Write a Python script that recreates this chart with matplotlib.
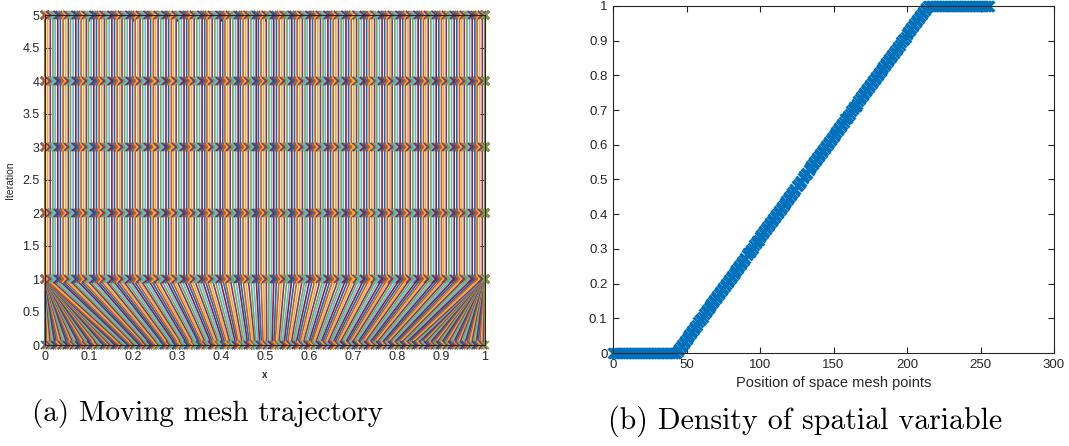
import numpy as np
import matplotlib
matplotlib.use("Agg")
import matplotlib.pyplot as plt

# ---------------- data ----------------
iterations = [0, 1, 2, 3, 4, 5]

# initial (uniform) mesh, iteration 0
mesh_iter0 = [
    0.000, 0.004, 0.008, 0.012, 0.016, 0.020, 0.023, 0.027, 0.031, 0.035, 0.039, 0.043, 0.047, 0.051, 0.055, 0.059,
    0.063, 0.066, 0.070, 0.074, 0.078, 0.082, 0.086, 0.090, 0.094, 0.098, 0.102, 0.105, 0.109, 0.113, 0.117, 0.121,
    0.125, 0.129, 0.133, 0.137, 0.141, 0.145, 0.148, 0.152, 0.156, 0.160, 0.164, 0.168, 0.172, 0.176, 0.180, 0.184,
    0.188, 0.191, 0.195, 0.199, 0.203, 0.207, 0.211, 0.215, 0.219, 0.223, 0.227, 0.230, 0.234, 0.238, 0.242, 0.246,
    0.250, 0.254, 0.258, 0.262, 0.266, 0.270, 0.273, 0.277, 0.281, 0.285, 0.289, 0.293, 0.297, 0.301, 0.305, 0.309,
    0.313, 0.316, 0.320, 0.324, 0.328, 0.332, 0.336, 0.340, 0.344, 0.348, 0.352, 0.355, 0.359, 0.363, 0.367, 0.371,
    0.375, 0.379, 0.383, 0.387, 0.391, 0.395, 0.398, 0.402, 0.406, 0.410, 0.414, 0.418, 0.422, 0.426, 0.430, 0.434,
    0.438, 0.441, 0.445, 0.449, 0.453, 0.457, 0.461, 0.465, 0.469, 0.473, 0.477, 0.480, 0.484, 0.488, 0.492, 0.496,
    0.500, 0.504, 0.508, 0.512, 0.516, 0.520, 0.523, 0.527, 0.531, 0.535, 0.539, 0.543, 0.547, 0.551, 0.555, 0.559,
    0.563, 0.566, 0.570, 0.574, 0.578, 0.582, 0.586, 0.590, 0.594, 0.598, 0.602, 0.605, 0.609, 0.613, 0.617, 0.621,
    0.625, 0.629, 0.633, 0.637, 0.641, 0.645, 0.648, 0.652, 0.656, 0.660, 0.664, 0.668, 0.672, 0.676, 0.680, 0.684,
    0.688, 0.691, 0.695, 0.699, 0.703, 0.707, 0.711, 0.715, 0.719, 0.723, 0.727, 0.730, 0.734, 0.738, 0.742, 0.746,
    0.750, 0.754, 0.758, 0.762, 0.766, 0.770, 0.773, 0.777, 0.781, 0.785, 0.789, 0.793, 0.797, 0.801, 0.805, 0.809,
    0.813, 0.816, 0.820, 0.824, 0.828, 0.832, 0.836, 0.840, 0.844, 0.848, 0.852, 0.855, 0.859, 0.863, 0.867, 0.871,
    0.875, 0.879, 0.883, 0.887, 0.891, 0.895, 0.898, 0.902, 0.906, 0.910, 0.914, 0.918, 0.922, 0.926, 0.930, 0.934,
    0.938, 0.941, 0.945, 0.949, 0.953, 0.957, 0.961, 0.965, 0.969, 0.973, 0.977, 0.980, 0.984, 0.988, 0.992, 0.996,
    1.000,
]

# adapted mesh (iterations 1..5), also shown in panel (b)
mesh_final = [
    0.000, 0.000, 0.000, 0.000, 0.000, 0.000, 0.000, 0.000, 0.000, 0.000, 0.000, 0.000, 0.000, 0.000, 0.000, 0.000,
    0.000, 0.000, 0.000, 0.000, 0.000, 0.000, 0.000, 0.000, 0.000, 0.000, 0.000, 0.000, 0.000, 0.000, 0.000, 0.000,
    0.000, 0.000, 0.000, 0.000, 0.000, 0.000, 0.000, 0.000, 0.000, 0.000, 0.000,
    0.000, 0.006, 0.012, 0.018, 0.023, 0.029, 0.035, 0.041, 0.047, 0.053, 0.058, 0.064, 0.070, 0.076, 0.082, 0.088,
    0.094, 0.099, 0.105, 0.111, 0.117, 0.123, 0.129, 0.135, 0.140, 0.146, 0.152, 0.158, 0.164, 0.170, 0.175, 0.181,
    0.187, 0.193, 0.199, 0.205, 0.211, 0.216, 0.222, 0.228, 0.234, 0.240, 0.246, 0.251, 0.257, 0.263, 0.269, 0.275,
    0.281, 0.287, 0.292, 0.298, 0.304, 0.310, 0.316, 0.322, 0.327, 0.333, 0.339, 0.345, 0.351, 0.357, 0.363, 0.368,
    0.374, 0.380, 0.386, 0.392, 0.398, 0.404, 0.409, 0.415, 0.421, 0.427, 0.433, 0.439, 0.444, 0.450, 0.456, 0.462,
    0.468, 0.474, 0.480, 0.485, 0.491, 0.497, 0.503, 0.509, 0.515, 0.520, 0.526, 0.532, 0.538, 0.544, 0.550, 0.556,
    0.561, 0.567, 0.573, 0.579, 0.585, 0.591, 0.596, 0.602, 0.608, 0.614, 0.620, 0.626, 0.632, 0.637, 0.643, 0.649,
    0.655, 0.661, 0.667, 0.673, 0.678, 0.684, 0.690, 0.696, 0.702, 0.708, 0.713, 0.719, 0.725, 0.731, 0.737, 0.743,
    0.749, 0.754, 0.760, 0.766, 0.772, 0.778, 0.784, 0.789, 0.795, 0.801, 0.807, 0.813, 0.819, 0.825, 0.830, 0.836,
    0.842, 0.848, 0.854, 0.860, 0.865, 0.871, 0.877, 0.883, 0.889, 0.895, 0.901, 0.906, 0.912, 0.918, 0.924, 0.930,
    0.936, 0.942, 0.947, 0.953, 0.959, 0.965, 0.971, 0.977, 0.982, 0.988, 0.994, 1.000,
    1.000, 1.000, 1.000, 1.000, 1.000, 1.000, 1.000, 1.000, 1.000, 1.000, 1.000, 1.000, 1.000, 1.000,
    1.000, 1.000, 1.000, 1.000, 1.000, 1.000, 1.000, 1.000, 1.000, 1.000, 1.000, 1.000, 1.000, 1.000,
    1.000, 1.000, 1.000, 1.000, 1.000, 1.000, 1.000, 1.000, 1.000, 1.000, 1.000, 1.000, 1.000, 1.000,
]

left_xticks = [0, 0.1, 0.2, 0.3, 0.4, 0.5, 0.6, 0.7, 0.8, 0.9, 1]
left_yticks = [0, 0.5, 1, 1.5, 2, 2.5, 3, 3.5, 4, 4.5, 5]
right_xticks = [0, 50, 100, 150, 200, 250, 300]
right_yticks = [0, 0.1, 0.2, 0.3, 0.4, 0.5, 0.6, 0.7, 0.8, 0.9, 1]

caption_a = "(a) Moving mesh trajectory"
caption_b = "(b) Density of spatial variable"

# ---------------- style ----------------
matlab_colors = ["#0072BD", "#D95319", "#EDB120", "#7E2F8E", "#77AC30", "#4DBEEE", "#A2142F"]
axis_color = "#262626"
plt.rcParams["font.family"] = ["Liberation Sans", "DejaVu Sans"]

fig = plt.figure(figsize=(10.69, 4.46), dpi=100)

def style_axes(ax, fs):
    for s in ax.spines.values():
        s.set_color(axis_color)
        s.set_linewidth(0.8)
    ax.tick_params(direction="in", top=True, right=True, length=4, width=0.8,
                   colors=axis_color, labelsize=fs, labelcolor=axis_color, pad=4)

# ---- panel (a) ----
axL = fig.add_axes([45 / 1069, 1 - 345 / 446, 440 / 1069, 330 / 446])
npts = len(mesh_iter0)
for i in range(npts):
    xs = [mesh_iter0[i]] + [mesh_final[i]] * (len(iterations) - 1)
    axL.plot(xs, iterations, "-x", color=matlab_colors[i % 7], lw=1.2,
             ms=5.5, mew=1.2, clip_on=False)
axL.set_xlim(0, 1)
axL.set_ylim(0, 5)
axL.set_xticks(left_xticks)
axL.set_xticklabels([f"{v:g}" for v in left_xticks])
axL.set_yticks(left_yticks)
axL.set_yticklabels([f"{v:g}" for v in left_yticks])
style_axes(axL, 9)
axL.set_xlabel("x", fontsize=7, color=axis_color, labelpad=5, fontweight="bold")
axL.set_ylabel("Iteration", fontsize=7.5, color=axis_color, labelpad=5)

# ---- panel (b) ----
axR = fig.add_axes([613 / 1069, 1 - 353 / 446, 441 / 1069, 347 / 446])
index = np.arange(len(mesh_final))
axR.plot(index, mesh_final, "-x", color="#0072BD", lw=1.0, ms=7, mew=2.0, clip_on=False)
axR.set_xlim(0, 300)
axR.set_ylim(0, 1)
axR.set_xticks(right_xticks)
axR.set_yticks(right_yticks)
axR.set_yticklabels([f"{v:g}" for v in right_yticks])
style_axes(axR, 9.5)
axR.set_xlabel("Position of space mesh points", fontsize=10.5, color=axis_color, labelpad=4)

# captions
fig.text(32 / 1069, 1 - 414 / 446, caption_a, fontsize=21, family="cmr10",
         ha="left", va="center")
fig.text(805 / 1069, 1 - 421 / 446, caption_b, fontsize=21.5, family="cmr10",
         ha="center", va="center")

fig.savefig("out.png", dpi=100)
